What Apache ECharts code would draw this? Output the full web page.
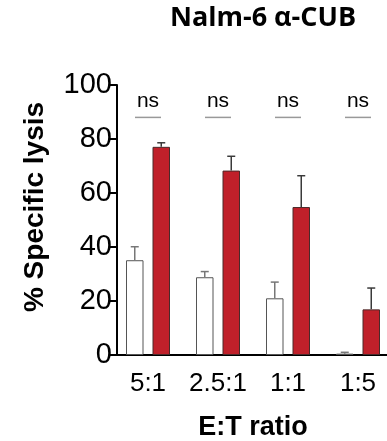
<!DOCTYPE html>
<html>
<head>
<meta charset="utf-8">
<script src="https://cdn.jsdelivr.net/npm/echarts@6/dist/echarts.min.js"></script>
<style>
  html, body { margin: 0; padding: 0; background: #fff; }
  #chart { width: 387px; height: 441px; }
</style>
</head>
<body>
<div id="chart"></div>
<script>
var categories = ['5:1', '2.5:1', '1:1', '1:5'];
var ctrlMean = [35.1, 28.8, 21.0, 0.5];
var ctrlErr = [5.0, 2.1, 6.0, 0.5];
var carMean = [77.1, 68.3, 54.8, 16.9];
var carErr = [1.5, 5.3, 11.6, 7.9];
var sigLabels = ['ns', 'ns', 'ns', 'ns'];

var barW = 17.5;
var barGapPx = 9;
var chart = echarts.init(document.getElementById('chart'));

// error bars (upper only, with cap)
function errorSeries(means, errs, side, color) {
  var data = means.map(function (m, i) { return [i, m, m + errs[i]]; });
  return {
    type: 'custom',
    z: 5,
    data: data,
    renderItem: function (params, api) {
      var shift = side * (barW + barGapPx) / 2;
      var lo = api.coord([api.value(0), api.value(1)]);
      var hi = api.coord([api.value(0), api.value(2)]);
      var x = lo[0] + shift;
      return {
        type: 'group',
        children: [
          { type: 'line', shape: { x1: x, y1: lo[1], x2: x, y2: hi[1] }, style: { stroke: color, lineWidth: 1.5 } },
          { type: 'line', shape: { x1: x - 4, y1: hi[1], x2: x + 4, y2: hi[1] }, style: { stroke: color, lineWidth: 1.5 } }
        ]
      };
    }
  };
}

option = {
  animation: false,
  title: {
    text: 'Nalm-6 α-CUB',
    left: 258,
    top: 0,
    textAlign: 'center',
    textStyle: { fontFamily: 'Open Sans', fontWeight: 'bold', fontSize: 27, color: '#000' }
  },
  grid: { left: 113, top: 85, width: 280, bottom: 86, outerBoundsMode: 'none' },
  xAxis: {
    type: 'category',
    data: categories,
    name: 'E:T ratio',
    nameLocation: 'middle',
    nameGap: 59,
    nameTextStyle: { fontFamily: 'Liberation Sans', fontWeight: 'bold', fontSize: 27, color: '#000' },
    axisLine: { lineStyle: { color: '#000', width: 2 } },
    axisTick: { alignWithLabel: true, length: 7, lineStyle: { color: '#000', width: 2 } },
    axisLabel: { interval: 0, fontFamily: 'Liberation Sans', fontSize: 26, color: '#000', margin: 16 }
  },
  yAxis: {
    type: 'value',
    min: 0,
    max: 100,
    interval: 20,
    offset: -4,
    name: '% Specific lysis',
    nameLocation: 'middle',
    nameGap: 68,
    nameTextStyle: { fontFamily: 'Liberation Sans', fontWeight: 'bold', fontSize: 28, color: '#000', padding: [0, 0, 0, 26] },
    splitLine: { show: false },
    axisLine: { show: true, lineStyle: { color: '#000', width: 2 } },
    axisTick: { show: true, length: 7, lineStyle: { color: '#000', width: 2 } },
    axisLabel: { fontFamily: 'Liberation Sans', fontSize: 29, color: '#000', margin: 5 }
  },
  series: [
    {
      type: 'bar',
      data: ctrlMean,
      barWidth: barW,
      barGap: (barGapPx / barW * 100) + '%',
      itemStyle: { color: '#fff', borderColor: '#555', borderWidth: 1 }
    },
    {
      type: 'bar',
      data: carMean,
      barWidth: barW,
      itemStyle: { color: '#c0202a', borderColor: '#4a2a2a', borderWidth: 1 }
    },
    errorSeries(ctrlMean, ctrlErr, -1, '#777'),
    errorSeries(carMean, carErr, 1, '#3a3a3a'),
    {
      type: 'custom',
      data: sigLabels.map(function (s, i) { return [i, 88, s]; }),
      renderItem: function (params, api) {
        var p = api.coord([api.value(0), api.value(1)]);
        return {
          type: 'group',
          children: [
            { type: 'line', shape: { x1: p[0] - 13, y1: p[1], x2: p[0] + 13, y2: p[1] }, style: { stroke: '#999', lineWidth: 1.5 } },
            { type: 'text', style: { text: sigLabels[params.dataIndex], x: p[0], y: p[1] - 6, align: 'center', verticalAlign: 'bottom', fontFamily: 'Liberation Sans', fontSize: 21, fill: '#000' } }
          ]
        };
      }
    }
  ]
};

chart.setOption(option);
</script>
</body>
</html>
